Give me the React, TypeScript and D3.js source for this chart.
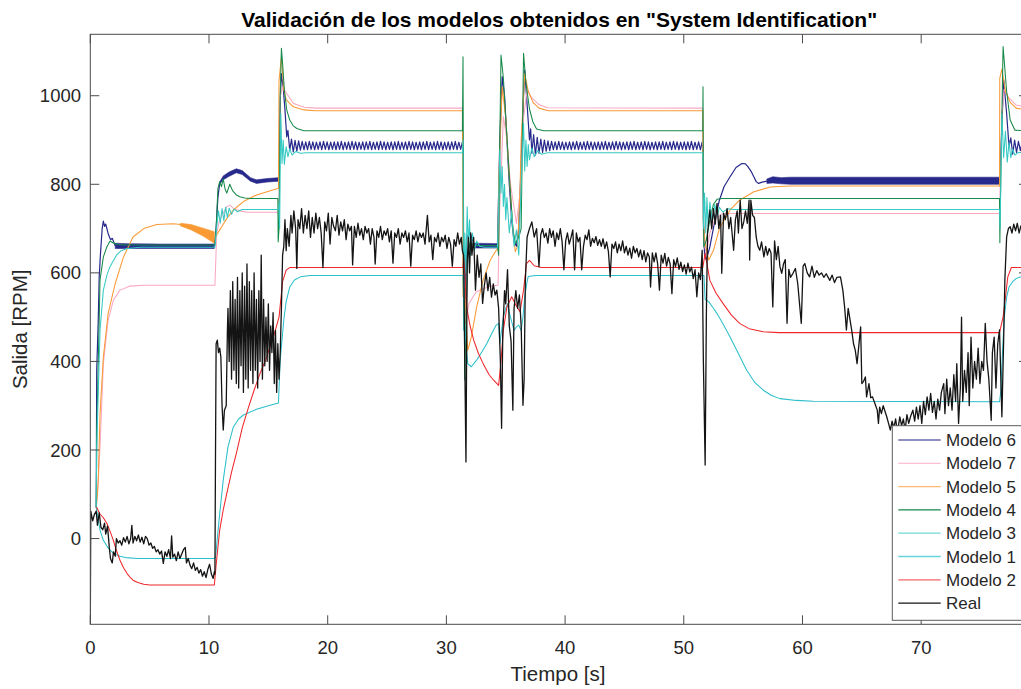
import React from "react";
import * as d3 from "d3";

type P = [number, number];
type B = [number, number, number];
type Zig = { t0: number; t1: number; values: number[] };

// ---------- axis / ticks ----------
const xDomain: [number, number] = [0, 79];
const yDomain: [number, number] = [-193.6, 1138.7];
const xTicks = [0, 10, 20, 30, 40, 50, 60, 70];
const yTicks = [0, 200, 400, 600, 800, 1000];
const titleText = 'Validación de los modelos obtenidos en "System Identification"';
const xLabel = "Tiempo [s]";
const yLabel = "Salida [RPM]";
const legendNames = ["Modelo 6", "Modelo 7", "Modelo 5", "Modelo 4", "Modelo 3", "Modelo 1", "Modelo 2", "Real"];

// ---------- Real (measured) ----------
const realSignal: P[] = [
  [0, -193], [0.04, 62], [0.2, 40], [0.35, 55], [0.5, 62], [0.6, 30], [0.75, 58], [0.9, 25], [1.05, 20], [1.2, 35], [1.3, 10], [1.45, 28],
  [1.6, -20], [1.7, -45], [1.85, -55], [1.95, -30], [2.1, -40], [2.2, 0], [2.35, -10], [2.5, -5], [2.65, -15], [2.8, 2], [2.95, -8], [3.1, 5],
  [3.25, -12], [3.4, 0], [3.5, 30], [3.6, -10], [3.75, 5], [3.9, -5], [4.05, 8], [4.2, -8], [4.35, 3], [4.5, -12], [4.65, 5], [4.8, 0], [4.95, -15],
  [5.1, -10], [5.25, -22], [5.4, -18], [5.55, -30], [5.7, -25], [5.85, -35], [6.0, -28], [6.15, -56], [6.3, -30], [6.45, -40], [6.6, -25], [6.75, -45],
  [6.85, 6], [6.95, -42], [7.1, -35], [7.25, -50], [7.4, -30], [7.55, -45], [7.7, -35], [7.85, -25], [8.0, -20], [8.1, -55], [8.25, -45], [8.4, -60],
  [8.55, -68], [8.7, -55], [8.85, -72], [9.0, -65], [9.15, -78], [9.3, -70], [9.45, -85], [9.6, -75], [9.75, -88], [9.9, -70], [10.05, -58], [10.2, -80],
  [10.35, -90], [10.45, -75],
  [10.5, -80], [10.55, 200], [10.6, 440], [10.7, 448], [10.8, 420], [10.9, 430], [11.0, 410], [11.1, 300], [11.2, 245], [11.3, 290], [11.45, 300],
  [11.55, 470], [11.6, 520], [11.7, 400], [11.8, 560], [11.9, 360], [12.0, 580], [12.1, 380], [12.2, 540], [12.3, 350], [12.4, 590], [12.5, 340],
  [12.6, 560], [12.7, 390], [12.8, 600], [12.9, 330], [13.0, 570], [13.1, 360], [13.2, 620], [13.3, 340], [13.4, 580], [13.5, 380], [13.6, 560],
  [13.7, 350], [13.8, 600], [13.9, 380], [14.0, 540], [14.1, 340], [14.2, 560], [14.3, 400], [14.4, 640], [14.5, 360], [14.6, 540], [14.7, 390],
  [14.8, 500], [14.9, 400], [15.0, 530], [15.1, 380], [15.2, 480], [15.3, 420], [15.4, 510], [15.5, 350], [15.6, 470], [15.7, 330], [15.8, 440], [15.9, 360],
  [16.0, 420], [16.1, 520], [16.2, 640], [16.3, 660], [16.4, 720], [16.5, 650], [16.6, 700], [16.75, 660], [16.9, 730], [17.0, 690], [17.15, 740],
  [17.3, 700], [17.4, 610], [17.5, 720], [17.65, 700], [17.8, 745], [17.95, 690], [18.1, 730], [18.25, 700], [18.4, 740], [18.55, 680], [18.7, 725],
  [18.85, 690], [19.0, 735], [19.15, 700], [19.3, 725], [19.45, 690], [19.6, 612], [19.75, 715], [19.9, 695], [20.05, 735], [20.2, 665], [20.35, 725],
  [20.5, 705], [20.65, 695], [20.8, 730], [20.95, 685], [21.1, 715], [21.25, 695], [21.4, 720], [21.55, 675], [21.7, 710], [21.85, 695], [22.0, 705],
  [22.1, 618], [22.25, 705], [22.4, 680], [22.55, 712], [22.7, 685], [22.85, 700], [23.0, 675], [23.15, 705], [23.3, 690], [23.45, 700], [23.6, 665],
  [23.75, 700], [23.9, 680], [24.0, 620], [24.15, 695], [24.3, 680], [24.45, 705], [24.6, 675], [24.75, 695], [24.9, 685], [25.05, 700], [25.2, 670],
  [25.35, 695], [25.5, 622], [25.65, 690], [25.8, 680], [25.95, 700], [26.1, 665], [26.25, 690], [26.4, 680], [26.55, 695], [26.7, 670], [26.85, 690],
  [27.0, 615], [27.15, 685], [27.3, 675], [27.45, 695], [27.6, 670], [27.75, 690], [27.9, 680], [28.05, 690], [28.2, 665], [28.4, 730], [28.55, 670],
  [28.7, 685], [28.85, 630], [29.0, 680], [29.15, 670], [29.3, 690], [29.45, 660], [29.6, 680], [29.75, 670], [29.9, 685], [30.05, 655], [30.2, 680],
  [30.35, 665], [30.5, 615], [30.65, 675], [30.8, 660], [30.95, 690], [31.1, 665], [31.25, 680], [31.35, 650],
  [31.45, 640], [31.55, 400], [31.65, 173], [31.75, 621], [31.85, 680], [31.95, 600], [32.05, 690], [32.15, 640], [32.3, 680], [32.45, 561], [32.6, 640],
  [32.75, 590], [32.9, 620], [33.05, 531], [33.2, 572], [33.35, 600], [33.5, 560], [33.65, 590], [33.8, 545], [33.95, 575], [34.1, 550], [34.25, 561],
  [34.4, 520], [34.55, 400], [34.65, 249], [34.75, 463], [34.9, 560], [35.0, 530], [35.15, 607], [35.3, 480], [35.45, 446], [35.6, 290], [35.7, 520],
  [35.85, 560], [36.0, 520], [36.15, 550], [36.3, 480], [36.45, 301], [36.55, 360], [36.65, 580], [36.8, 681], [37.0, 700], [37.2, 715],
  [37.4, 681], [37.6, 700], [37.8, 614], [37.95, 686], [38.1, 700], [38.25, 680], [38.4, 690], [38.55, 667], [38.7, 700], [38.85, 680], [39.0, 695],
  [39.15, 660], [39.3, 690], [39.45, 675], [39.6, 700], [39.75, 670], [39.9, 607], [40.05, 672], [40.2, 690], [40.35, 665], [40.5, 680], [40.65, 697],
  [40.8, 607], [40.95, 690], [41.1, 670], [41.25, 680], [41.4, 607], [41.55, 660], [41.7, 685], [41.85, 675], [42.0, 697], [42.15, 660], [42.3, 678],
  [42.45, 668], [42.6, 682], [42.75, 662], [42.9, 675], [43.05, 660], [43.2, 677], [43.35, 655], [43.5, 670], [43.65, 648], [43.8, 591], [43.95, 665],
  [44.1, 655], [44.25, 670], [44.4, 645], [44.55, 665], [44.7, 650], [44.85, 672], [45.0, 645], [45.15, 660], [45.3, 640], [45.45, 656], [45.6, 633],
  [45.75, 660], [45.9, 645], [46.05, 655], [46.2, 636], [46.35, 652], [46.5, 630], [46.65, 650], [46.8, 625], [46.95, 645], [47.1, 636], [47.2, 568],
  [47.35, 645], [47.5, 625], [47.65, 645], [47.8, 620], [47.95, 561], [48.1, 640], [48.25, 622], [48.4, 644], [48.55, 615], [48.7, 635], [48.85, 620],
  [49.0, 553], [49.15, 630], [49.3, 614], [49.45, 634], [49.6, 608], [49.75, 624], [49.9, 603], [50.05, 618], [50.2, 597], [50.35, 622], [50.5, 602],
  [50.65, 613], [50.8, 587], [50.95, 607], [51.1, 546], [51.25, 600], [51.4, 585], [51.55, 651], [51.65, 400], [51.8, 166], [51.9, 500], [52.0, 689],
  [52.2, 742], [52.35, 700], [52.5, 745], [52.65, 710], [52.8, 757], [52.95, 700], [53.1, 730], [53.2, 599], [53.35, 735], [53.5, 720], [53.65, 745],
  [53.8, 700], [53.95, 725], [54.2, 651], [54.35, 720], [54.5, 740], [54.6, 690], [54.75, 764], [54.9, 700], [55.05, 715], [55.2, 740], [55.35, 712],
  [55.5, 764], [55.55, 629], [55.65, 764], [55.8, 730], [55.95, 725], [56.1, 681], [56.25, 660], [56.4, 651], [56.55, 670], [56.75, 636], [56.9, 660],
  [57.05, 640], [57.2, 655], [57.35, 645], [57.5, 523], [57.65, 672], [57.8, 630], [57.95, 660], [58.1, 614], [58.25, 599], [58.4, 620], [58.55, 630],
  [58.7, 486], [58.85, 608], [59.0, 590], [59.2, 599], [59.4, 610], [59.6, 576], [59.9, 486], [60.05, 615], [60.2, 621], [60.4, 600], [60.6, 591],
  [60.8, 615], [61.0, 590], [61.2, 605], [61.4, 595], [61.6, 600], [61.8, 590], [62.0, 598], [62.3, 583], [62.5, 595], [62.7, 578], [62.9, 590],
  [63.2, 591], [63.4, 561], [63.55, 523], [63.7, 471], [63.85, 520], [64.0, 495], [64.15, 470], [64.3, 440], [64.45, 425], [64.6, 395], [64.9, 478],
  [65.0, 350], [65.15, 355], [65.3, 365], [65.4, 320], [65.6, 350], [65.75, 318], [65.9, 320], [66.1, 305], [66.3, 290], [66.4, 260],
  [66.5, 297], [66.65, 282], [66.8, 300], [67.1, 275], [67.25, 260], [67.4, 245], [67.55, 265], [67.7, 250], [67.85, 270], [68.0, 240], [68.2, 275],
  [68.35, 255], [68.5, 270], [68.65, 245], [68.8, 280], [68.95, 260], [69.1, 275], [69.3, 290], [69.45, 265], [69.6, 297], [69.75, 270], [69.9, 300],
  [70.05, 260], [70.2, 310], [70.35, 280], [70.5, 320], [70.65, 290], [70.8, 328], [70.95, 285], [71.1, 310], [71.25, 270], [71.4, 315], [71.55, 290],
  [71.7, 330], [71.9, 350], [72.0, 282], [72.15, 360], [72.3, 300], [72.45, 340], [72.6, 290], [72.75, 370], [72.9, 310], [73.0, 395], [73.15, 260],
  [73.3, 340], [73.4, 500], [73.5, 310], [73.65, 380], [73.8, 330], [73.95, 420], [74.05, 300], [74.2, 455], [74.35, 340], [74.5, 400], [74.65, 360],
  [74.8, 430], [74.95, 350], [75.1, 400], [75.25, 380], [75.4, 486], [75.55, 400], [75.7, 360], [75.9, 267], [76.0, 420], [76.15, 455], [76.3, 340],
  [76.45, 440], [76.6, 471], [76.8, 275], [76.95, 450], [77.05, 584], [77.2, 681], [77.35, 700], [77.5, 704], [77.65, 690], [77.8, 710], [77.95, 695],
  [78.1, 712], [78.25, 690], [78.4, 706], [78.55, 695], [78.7, 712], [78.85, 700], [79.0, 705],
];

// ---------- Modelo 2 (red) ----------
const modelo2: P[] = [
  [0.5, 70], [0.55, 70], [0.8, 56], [1.1, 47], [1.4, 34], [1.7, 14], [1.94, -4], [2.2, -27], [2.5, -49], [2.8, -66], [3.1, -79], [3.4, -89], [3.6, -94],
  [4.0, -99], [4.5, -103], [5.0, -105], [10.45, -105], [10.6, -60], [10.9, 19], [11.2, 65], [11.5, 102], [11.9, 150], [12.3, 192], [12.8, 250],
  [13.3, 294], [13.8, 335], [14.3, 373], [14.8, 405], [15.1, 430], [15.5, 462], [15.9, 500], [16.2, 580], [16.5, 606], [16.8, 612], [31.4, 612],
  [31.45, 636], [31.55, 600], [31.7, 523], [32.0, 480], [32.3, 448], [32.7, 418], [33.1, 395], [33.6, 370], [34.0, 357], [34.4, 346], [34.6, 400],
  [34.8, 471], [35.1, 523], [35.5, 546], [35.8, 530], [36.2, 512], [36.5, 561], [36.75, 621], [37.0, 628], [37.4, 616], [38, 612], [51.6, 612],
  [51.8, 644], [52.2, 583], [52.7, 555], [53.3, 531], [54.0, 505], [54.7, 486], [55.5, 474], [56.7, 467], [58, 465], [76.6, 465], [76.9, 500],
  [77.1, 545], [77.3, 591], [77.6, 612], [79, 612],
];

// ---------- Modelo 1 (lower cyan) ----------
const modelo1: P[] = [
  [0.5, 71], [0.65, 45], [0.82, 19], [1.1, -4], [1.4, -17], [1.66, -26], [2.0, -34], [2.5, -40], [3.0, -43], [4, -45], [10.45, -45], [10.55, -42],
  [10.9, 56], [11.2, 132], [11.6, 207], [12.05, 252], [12.5, 270], [12.9, 279], [14.0, 292], [15.0, 300], [15.85, 306], [16.0, 403], [16.3, 493],
  [16.5, 535], [16.8, 568], [17.2, 584], [17.7, 591], [18.5, 594], [31.4, 594], [31.5, 500], [31.65, 440], [31.8, 395], [32.1, 388], [32.55, 403],
  [33.0, 422], [33.4, 440], [33.8, 462], [34.2, 482], [34.4, 486], [34.5, 440], [34.65, 470], [34.8, 500], [35.0, 520], [35.15, 530], [35.3, 510],
  [35.5, 490], [35.7, 470], [35.9, 478], [36.1, 482], [36.3, 470], [36.45, 500], [36.6, 546], [36.8, 580], [36.9, 592], [37.5, 594], [51.6, 594],
  [51.7, 594], [51.8, 540], [52.1, 535], [52.5, 520], [52.8, 508], [53.3, 485], [53.9, 455], [54.6, 418], [55.3, 380], [56.0, 352], [56.7, 335],
  [57.4, 323], [58.1, 316], [59.5, 312], [60.9, 310], [76.6, 309], [76.7, 330], [76.85, 420], [77.0, 500], [77.2, 545], [77.4, 568], [77.7, 580],
  [78.0, 587], [78.5, 592], [79, 594],
];

// ---------- Modelo 3 (upper cyan) ----------
const modelo3: P[] = [
  [0.5, 70], [0.54, 207], [0.82, 471], [1.1, 561], [1.4, 595], [1.66, 614], [2.2, 640], [2.6, 650], [3.1, 655], [4.2, 658], [10.5, 658], [10.65, 704],
  [10.8, 740], [10.95, 712], [11.1, 745], [11.25, 718], [11.4, 748], [11.55, 725], [11.7, 746], [11.9, 732], [12.1, 744], [12.4, 738], [12.8, 743],
  [15.85, 743], [15.9, 757], [15.95, 700], [16.05, 960], [16.15, 847], [16.25, 900], [16.35, 845], [16.5, 885], [16.65, 862], [16.8, 880], [17.0, 866],
  [17.3, 874], [17.7, 870], [18.2, 871], [31.35, 871], [31.4, 900], [31.45, 471], [31.55, 690], [31.65, 600], [31.75, 749], [31.85, 660], [31.95, 720],
  [32.05, 640], [32.2, 690], [32.35, 650], [32.55, 672], [32.8, 660], [33.2, 658], [34.3, 658], [34.4, 750], [34.5, 878], [34.6, 780], [34.7, 840],
  [34.8, 750], [34.9, 800], [35.0, 720], [35.1, 770], [35.3, 690], [35.5, 740], [35.7, 660], [35.9, 697], [36.1, 640], [36.3, 800], [36.5, 938],
  [36.6, 830], [36.7, 900], [36.8, 840], [36.9, 890], [37.0, 855], [37.2, 882], [37.4, 862], [37.7, 876], [38.0, 868], [38.5, 871], [51.6, 871],
  [51.65, 700], [51.75, 780], [51.85, 690], [51.95, 770], [52.05, 705], [52.2, 760], [52.4, 715], [52.6, 755], [52.8, 728], [53.0, 748], [53.3, 737],
  [53.7, 745], [54.2, 743], [76.6, 743], [76.65, 700], [76.8, 960], [76.95, 860], [77.1, 920], [77.25, 850], [77.4, 895], [77.55, 860], [77.7, 880],
  [77.9, 866], [78.2, 872], [79, 871],
];

// ---------- Modelo 4 (green) ----------
const modelo4: P[] = [
  [0.5, 70], [0.55, 250], [0.7, 433], [0.82, 584], [1.1, 636], [1.4, 659], [1.66, 672], [1.9, 668], [2.3, 664], [3, 663], [10.5, 663], [10.6, 700],
  [10.75, 790], [10.9, 806], [11.05, 795], [11.2, 812], [11.35, 790], [11.5, 780], [11.75, 800], [12.0, 785], [12.3, 776], [12.6, 772], [13.0, 769],
  [13.5, 768], [15.8, 768], [15.83, 670], [15.9, 700], [16.0, 1000], [16.1, 1107], [16.2, 1073], [16.35, 1013], [16.55, 968], [16.8, 945], [17.1, 932],
  [17.4, 926], [18, 921], [31.35, 921], [31.4, 1088], [31.45, 700], [31.55, 358], [31.65, 500], [31.8, 640], [32.0, 670], [32.3, 662], [33, 662],
  [34.3, 662], [34.4, 640], [34.5, 900], [34.6, 1092], [34.8, 1040], [35.0, 950], [35.3, 820], [35.6, 700], [35.8, 667], [36.0, 675], [36.2, 690],
  [36.3, 700], [36.5, 1096], [36.7, 1030], [37.0, 970], [37.3, 940], [37.6, 925], [38.2, 921], [51.6, 921], [51.62, 1020], [51.68, 659], [51.9, 674],
  [52.2, 720], [52.5, 755], [52.8, 766], [53.2, 768], [76.6, 768], [76.63, 668], [76.7, 800], [76.9, 1111], [77.2, 1010], [77.5, 945], [77.9, 922],
  [79, 921],
];

// ---------- Modelo 5 (orange) ----------
const modelo5: P[] = [
  [0.5, 70], [0.6, 100], [0.67, 132], [0.82, 282], [1.1, 410], [1.5, 508], [2.1, 576], [2.8, 636], [3.6, 681], [4.5, 700], [5.6, 709], [7.0, 711],
  [7.6, 709], [8.5, 703], [9.5, 692], [10.45, 680], [10.5, 680], [10.9, 697], [11.07, 704], [11.5, 723], [12.05, 742], [12.9, 761], [14.0, 776],
  [15.1, 785], [15.85, 791], [15.9, 1035], [16.1, 1088], [16.3, 1013], [16.5, 991], [17.1, 975], [18.0, 968], [19, 966], [31.35, 966], [31.4, 546],
  [31.55, 560], [31.8, 425], [32.1, 455], [32.55, 523], [33.1, 584], [33.7, 629], [34.2, 651], [34.35, 655], [34.4, 800], [34.7, 1020], [35.0, 950],
  [35.3, 820], [35.6, 700], [35.8, 648], [36.0, 660], [36.2, 780], [36.3, 900], [36.6, 1050], [36.9, 1010], [37.3, 985], [37.8, 972], [38.6, 966],
  [51.6, 966], [51.65, 712], [51.8, 667], [52.1, 629], [52.5, 651], [53.0, 700], [53.9, 742], [54.7, 764], [55.9, 783], [57.3, 794], [59, 796],
  [76.6, 796], [76.62, 1039], [76.8, 1060], [77.1, 1010], [77.5, 985], [78, 972], [79, 967],
];
const modelo5Band: B[] = [[7.6, 706, 712], [8.5, 697, 709], [9.5, 683, 701], [10.45, 667, 693]];

// ---------- Modelo 7 (pink) ----------
const modelo7: P[] = [
  [0.5, 70], [0.6, 100], [0.82, 207], [1.1, 395], [1.5, 493], [1.94, 538], [2.5, 561], [3.3, 570], [4.5, 572], [10.5, 572], [10.65, 690], [10.9, 720],
  [11.2, 735], [11.5, 749], [11.75, 753], [12.1, 745], [12.6, 740], [13.2, 737], [15.85, 737], [15.9, 760], [16.0, 998], [16.2, 1020], [16.55, 1005],
  [17.1, 983], [18.0, 974], [19, 972], [31.35, 972], [31.45, 531], [31.6, 485], [31.9, 531], [32.5, 557], [33.0, 563], [33.7, 570], [34.35, 572],
  [34.5, 750], [34.8, 953], [35.1, 900], [35.4, 800], [35.9, 712], [36.2, 780], [36.5, 950], [36.8, 1013], [37.2, 995], [37.8, 980], [38.5, 973],
  [51.6, 972], [51.65, 680], [51.9, 640], [52.2, 690], [52.6, 720], [53.2, 733], [54, 734], [76.6, 734], [76.8, 960], [77.0, 1015], [77.4, 995],
  [78, 979], [79, 974],
];

// ---------- Modelo 6 (navy) ----------
const modelo6A: P[] = [[0.5, 70], [0.54, 380], [0.67, 493], [0.75, 591], [0.85, 640], [1.0, 700], [1.1, 717], [1.2, 705], [1.3, 710], [1.5, 689], [1.7, 675], [1.85, 678], [2.1, 661]];
const modelo6B: P[] = [[10.45, 661], [10.6, 700], [10.75, 770], [10.9, 802]];
const modelo6C: P[] = [[15.85, 811], [15.9, 825], [16.0, 990], [16.1, 1050], [16.25, 1020], [16.4, 968], [16.55, 907], [16.65, 922], [16.8, 877]];
const modelo6D: P[] = [[31.4, 885], [31.45, 600], [31.55, 500], [31.7, 681], [32.0, 690], [32.2, 674], [32.4, 662]];
const modelo6E: P[] = [[34.3, 661], [34.5, 900], [34.7, 1043], [34.9, 1000], [35.1, 900], [35.3, 800], [35.5, 720], [35.7, 670], [35.9, 660], [36.1, 700], [36.3, 850], [36.5, 1000], [36.6, 1058], [36.8, 980], [37.0, 900], [37.1, 925], [37.2, 870]];
const modelo6G: P[] = [[51.6, 890], [51.65, 727], [51.75, 640], [51.9, 629], [52.2, 659], [52.6, 715], [53.0, 764], [53.4, 795], [53.9, 817], [54.4, 838], [54.9, 847], [55.2, 846], [55.4, 840], [55.7, 828], [55.9, 817], [56.1, 806], [56.3, 802], [56.6, 805], [57.0, 807]];
const modelo6H: P[] = [[76.6, 808], [76.75, 900], [76.95, 1036], [77.2, 960], [77.4, 885]];
const modelo6ZigC: Zig = {
  t0: 16.95, t1: 31.35, values: [
    902, 873, 899, 875, 898, 877, 897, 878, 896, 878, 897, 879, 896, 878, 895, 879, 896, 878, 897, 879, 896, 878, 895, 879, 896, 878, 896, 879, 897, 878,
    895, 879, 896, 878, 897, 879, 896, 878, 895, 879, 896, 878, 896, 879, 897, 878, 895, 879, 896, 878, 897, 879, 896, 878, 895, 879, 896, 878, 896, 879,
    897, 878, 895, 879, 896, 878, 897, 879, 896, 878, 895, 879, 896, 878, 896, 879, 897, 878, 895, 879, 896, 878, 897, 879, 896, 878, 895, 879, 896, 878,
    896, 879, 897, 878, 895, 879, 896,
  ],
};
const modelo6ZigF: Zig = {
  t0: 37.35, t1: 51.55, values: [
    912, 866, 906, 870, 902, 872, 900, 875, 898, 876, 897, 878, 896, 878, 897, 879, 896, 878, 895, 879, 896, 878, 896, 879, 897, 878, 895, 879, 896, 878,
    897, 879, 896, 878, 895, 879, 896, 878, 896, 879, 897, 878, 895, 879, 896, 878, 897, 879, 896, 878, 895, 879, 896, 878, 896, 879, 897, 878, 895, 879,
    896, 878, 897, 879, 896, 878, 895, 879, 896, 878, 896, 879, 897, 878, 895, 879, 896, 878, 897, 879, 896, 878, 895, 879, 896, 878, 896, 879, 897, 878,
    895, 879, 896, 878, 896,
  ],
};
const modelo6ZigH: Zig = { t0: 77.55, t1: 79.0, values: [905, 868, 900, 872, 897, 876, 896, 878, 895, 879] };
// dense oscillation envelopes [t, low, high]
const modelo6BandA: B[] = [[2.1, 655, 667], [3, 655, 666], [6, 655, 665], [10.45, 655, 665]];
const modelo6BandB: B[] = [[10.9, 800, 805], [11.2, 810, 819], [11.7, 818, 828], [12.3, 826, 835], [12.8, 822, 831], [13.5, 807, 815], [14.0, 802, 810], [14.9, 805, 813], [15.85, 807, 815]];
const modelo6BandD: B[] = [[32.4, 656, 667], [34.3, 656, 666]];
const modelo6BandG: B[] = [[57.0, 802, 812], [57.5, 803, 817], [58.2, 801, 815], [59, 800, 816], [76.6, 800, 816]];

// ---------- colours ----------
const colors: Record<string, string> = {
  "Modelo 6": "#28298c",
  "Modelo 7": "#f9a7c1",
  "Modelo 5": "#f99a34",
  "Modelo 4": "#17894a",
  "Modelo 3": "#35c9c3",
  "Modelo 1": "#2bbfca",
  "Modelo 2": "#f0262a",
  Real: "#141414",
};

const W = 1021;
const H = 689;
const plot = { left: 90.3, right: 1028, top: 34.3, bottom: 624.3 };
const FONT = "'Liberation Sans', Arial, Helvetica, sans-serif";
const TXT = "#262626";

function zigPoints(z: Zig): P[] {
  const n = z.values.length;
  return z.values.map((v, i) => [z.t0 + ((z.t1 - z.t0) * i) / (n - 1), v] as P);
}

export default function App() {
  const x = d3.scaleLinear().domain(xDomain).range([plot.left, plot.right]);
  const y = d3.scaleLinear().domain(yDomain).range([plot.bottom, plot.top]);
  const line = d3.line<P>().x((d) => x(d[0])).y((d) => y(d[1]));
  const area = d3.area<B>().x((d) => x(d[0])).y0((d) => y(d[1])).y1((d) => y(d[2]));

  const navyLines: P[][] = [
    modelo6A,
    modelo6B,
    [...modelo6C, ...zigPoints(modelo6ZigC)],
    modelo6D,
    [...modelo6E, ...zigPoints(modelo6ZigF)],
    modelo6G,
    [...modelo6H, ...zigPoints(modelo6ZigH)],
  ];
  const navyBands = [modelo6BandA, modelo6BandB, modelo6BandD, modelo6BandG];

  const sw = 1.05;
  const legendX = 892.3;
  const legendY = 425.7;
  const rowH = 23.3;

  return (
    <svg width={W} height={H} style={{ position: "absolute", left: 0, top: 0, background: "#fff" }} fontFamily={FONT}>
      <rect x={0} y={0} width={W} height={H} fill="#fff" />
      <defs>
        <clipPath id="plotclip">
          <rect x={plot.left} y={plot.top} width={plot.right - plot.left} height={plot.bottom - plot.top} />
        </clipPath>
      </defs>
      <g clipPath="url(#plotclip)" fill="none" strokeLinejoin="round">
        {navyBands.map((b, i) => (
          <path key={"nb" + i} d={area(b) || ""} fill={colors["Modelo 6"]} stroke={colors["Modelo 6"]} strokeWidth={0.6} />
        ))}
        {navyLines.map((l, i) => (
          <path key={"nl" + i} d={line(l) || ""} stroke={colors["Modelo 6"]} strokeWidth={1.2} />
        ))}
        <path d={line(modelo7) || ""} stroke={colors["Modelo 7"]} strokeWidth={sw} />
        <path d={area(modelo5Band) || ""} fill={colors["Modelo 5"]} stroke={colors["Modelo 5"]} strokeWidth={0.6} />
        <path d={line(modelo5) || ""} stroke={colors["Modelo 5"]} strokeWidth={sw} />
        <path d={line(modelo4) || ""} stroke={colors["Modelo 4"]} strokeWidth={sw} />
        <path d={line(modelo3) || ""} stroke={colors["Modelo 3"]} strokeWidth={sw} />
        <path d={line(modelo1) || ""} stroke={colors["Modelo 1"]} strokeWidth={sw} />
        <path d={line(modelo2) || ""} stroke={colors["Modelo 2"]} strokeWidth={sw} />
        <path d={line(realSignal) || ""} stroke={colors.Real} strokeWidth={1.3} />
      </g>

      {/* axes box */}
      <rect x={plot.left} y={plot.top} width={plot.right - plot.left} height={plot.bottom - plot.top} fill="none" stroke="#4a4a4a" strokeWidth={1} />

      {/* x ticks */}
      {xTicks.map((t) => (
        <g key={"xt" + t}>
          <line x1={x(t)} x2={x(t)} y1={plot.bottom} y2={plot.bottom - 9} stroke="#4a4a4a" />
          <line x1={x(t)} x2={x(t)} y1={plot.top} y2={plot.top + 9} stroke="#4a4a4a" />
          <text x={x(t)} y={653.5} textAnchor="middle" fontSize={18.5} fill={TXT}>
            {t}
          </text>
        </g>
      ))}
      {/* y ticks */}
      {yTicks.map((t) => (
        <g key={"yt" + t}>
          <line x1={plot.left} x2={plot.left + 9} y1={y(t)} y2={y(t)} stroke="#4a4a4a" />
          <line x1={plot.right} x2={plot.right - 9} y1={y(t)} y2={y(t)} stroke="#4a4a4a" />
          <text x={81} y={y(t) + 6.6} textAnchor="end" fontSize={18.5} fill={TXT}>
            {t}
          </text>
        </g>
      ))}

      {/* title and labels */}
      <text x={(plot.left + plot.right) / 2} y={26.8} textAnchor="middle" fontSize={21} fontWeight="bold" fill="#000">
        {titleText}
      </text>
      <text x={558} y={681} textAnchor="middle" fontSize={20.5} fill={TXT}>
        {xLabel}
      </text>
      <text transform={`translate(27,${(plot.top + plot.bottom) / 2}) rotate(-90)`} textAnchor="middle" fontSize={20.5} fill={TXT}>
        {yLabel}
      </text>

      {/* legend */}
      <g>
        <rect x={legendX} y={legendY} width={150} height={194.6} fill="#fff" stroke="#5a5a5a" strokeWidth={1} />
        {legendNames.map((n, i) => {
          const ly = legendY + 14.3 + i * rowH;
          return (
            <g key={"lg" + n}>
              <line x1={898.3} x2={940.7} y1={ly} y2={ly} stroke={colors[n]} strokeWidth={1.3} strokeOpacity={n === "Real" || n === "Modelo 4" ? 1 : 0.7} />
              <text x={946} y={ly + 6} fontSize={17} fill={TXT}>
                {n}
              </text>
            </g>
          );
        })}
      </g>
    </svg>
  );
}
